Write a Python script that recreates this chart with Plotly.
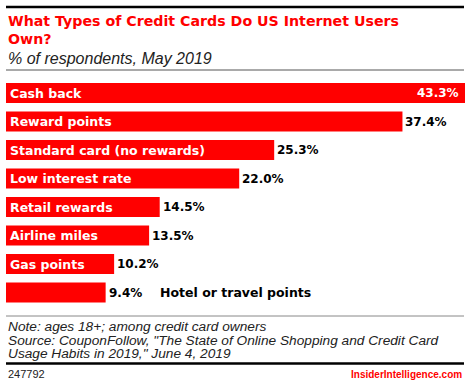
import plotly.graph_objects as go

categories = ["Cash back", "Reward points", "Standard card (no rewards)", "Low interest rate",
              "Retail rewards", "Airline miles", "Gas points", "Hotel or travel points"]
values = [43.3, 37.4, 25.3, 22.0, 14.5, 13.5, 10.2, 9.4]
inside_label = [True, True, True, True, True, True, True, False]

W, H = 470, 385
RED = "#ff0000"
BOLD = "DejaVu Sans"
TXT = "Liberation Sans"

def py(px):
    return 1 - px / H

def px_x(px):
    return px / W

fig = go.Figure()
fig.add_trace(go.Bar(
    x=values, y=categories, orientation="h",
    marker=dict(color=RED, line=dict(width=0)),
    hoverinfo="skip",
))

ann = []
for i, (c, v) in enumerate(zip(categories, values)):
    lbl = f"{v:.1f}%"
    if i == 0:
        ann.append(dict(x=v, y=c, xref="x", yref="y", text=f"<b>{lbl}</b>", showarrow=False,
                        xanchor="right", xshift=-4, font=dict(family=BOLD, size=12, color="white")))
    else:
        ann.append(dict(x=v, y=c, xref="x", yref="y", text=f"<b>{lbl}</b>", showarrow=False,
                        xanchor="left", xshift=1, font=dict(family=BOLD, size=12, color="black")))
    if inside_label[i]:
        ann.append(dict(x=0, y=c, xref="x", yref="y", text=f"<b>{c}</b>", showarrow=False,
                        xanchor="left", xshift=2, font=dict(family=BOLD, size=12.5, color="white")))
    else:
        ann.append(dict(x=v, y=c, xref="x", yref="y", text=f"<b>{c}</b>", showarrow=False,
                        xanchor="left", xshift=52, font=dict(family=BOLD, size=12.5, color="black")))

ann += [
    dict(x=px_x(6), y=py(21), xref="paper", yref="paper", xanchor="left", yanchor="middle",
         text="<b>What Types of Credit Cards Do US Internet Users</b>", showarrow=False,
         font=dict(family=BOLD, size=14.2, color=RED)),
    dict(x=px_x(6), y=py(39), xref="paper", yref="paper", xanchor="left", yanchor="middle",
         text="<b>Own?</b>", showarrow=False, font=dict(family=BOLD, size=14.2, color=RED)),
    dict(x=px_x(6), y=py(59), xref="paper", yref="paper", xanchor="left", yanchor="middle",
         text="<i>% of respondents, May 2019</i>", showarrow=False,
         font=dict(family=TXT, size=16, color="#222")),
    dict(x=px_x(6), y=py(326), xref="paper", yref="paper", xanchor="left", yanchor="middle",
         text="<i>Note: ages 18+; among credit card owners</i>", showarrow=False,
         font=dict(family=TXT, size=13.7, color="#222")),
    dict(x=px_x(6), y=py(340), xref="paper", yref="paper", xanchor="left", yanchor="middle",
         text="<i>Source: CouponFollow, \"The State of Online Shopping and Credit Card</i>", showarrow=False,
         font=dict(family=TXT, size=13.7, color="#222")),
    dict(x=px_x(6), y=py(353.5), xref="paper", yref="paper", xanchor="left", yanchor="middle",
         text="<i>Usage Habits in 2019,\" June 4, 2019</i>", showarrow=False,
         font=dict(family=TXT, size=13.7, color="#222")),
    dict(x=px_x(6), y=py(374), xref="paper", yref="paper", xanchor="left", yanchor="middle",
         text="247792", showarrow=False, font=dict(family=TXT, size=11, color="#222")),
    dict(x=px_x(464), y=py(374), xref="paper", yref="paper", xanchor="right", yanchor="middle",
         text="<b>InsiderIntelligence.com</b>", showarrow=False,
         font=dict(family=TXT, size=10, color=RED)),
]

shapes = [
    dict(type="line", xref="paper", yref="paper", x0=px_x(6), x1=px_x(464), y0=py(7), y1=py(7),
         line=dict(color="black", width=2.5)),
    dict(type="line", xref="paper", yref="paper", x0=px_x(6), x1=px_x(464), y0=py(70), y1=py(70),
         line=dict(color="#555", width=1)),
    dict(type="line", xref="paper", yref="paper", x0=px_x(6), x1=px_x(464), y0=py(316), y1=py(316),
         line=dict(color="#888", width=1)),
    dict(type="line", xref="paper", yref="paper", x0=px_x(6), x1=px_x(464), y0=py(363.5), y1=py(363.5),
         line=dict(color="black", width=2.5)),
]

fig.update_layout(
    width=W, height=H, margin=dict(l=0, r=0, t=0, b=0),
    paper_bgcolor="white", plot_bgcolor="white",
    showlegend=False, bargap=0.3,
    xaxis=dict(domain=[px_x(6), px_x(465)], range=[0, 43.3], visible=False, fixedrange=True),
    yaxis=dict(domain=[py(306.75), py(78.75)], autorange="reversed", visible=False,
               categoryorder="array", categoryarray=categories, fixedrange=True),
    annotations=ann, shapes=shapes,
)

fig.write_html("out.html", config={"displayModeBar": False},
               post_script="document.body.style.margin='0';document.body.style.overflow='hidden';")
